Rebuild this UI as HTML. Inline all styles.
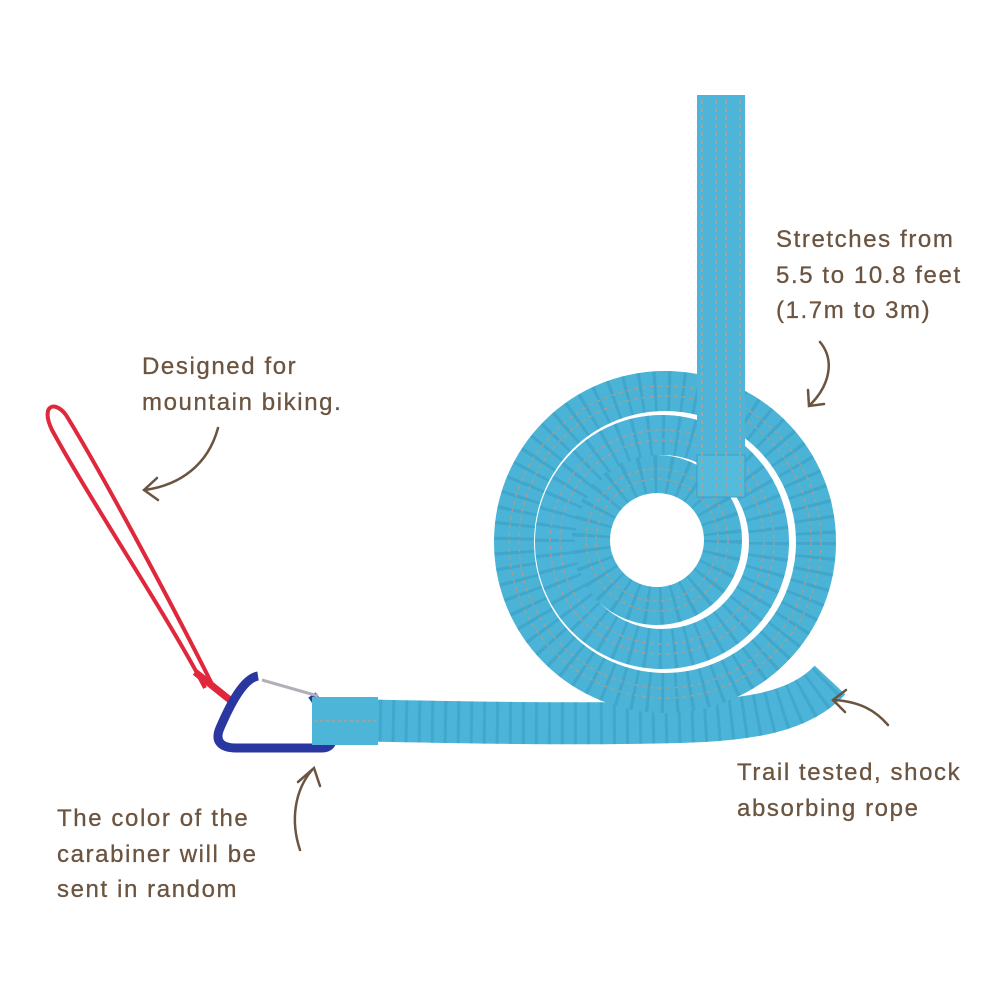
<!DOCTYPE html>
<html><head><meta charset="utf-8"><style>
html,body{margin:0;padding:0;background:#fff;}
svg{display:block;}
text{font-family:"Liberation Sans",sans-serif;font-size:24px;fill:#6b5440;letter-spacing:1.6px;stroke:#6b5440;stroke-width:0.3px;}
</style></head><body>
<svg width="1000" height="1000" viewBox="0 0 1000 1000">
<rect width="1000" height="1000" fill="#fff"/>
<!-- red loop -->
<path d="M205,688 C170,620 90,500 52,430 C40,405 55,400 66,415 C100,470 170,600 215,690" fill="none" stroke="#e0283c" stroke-width="4"/>
<path d="M195,672 L230,700" stroke="#e0283c" stroke-width="7"/>
<!-- carabiner -->
<path d="M258,676 C245,678 232,700 220,728 C214,742 222,748 236,748 L322,748 C336,748 336,732 324,712 L312,695" fill="none" stroke="#2a37a0" stroke-width="9" stroke-linejoin="round"/>
<path d="M262,680 L318,696" stroke="#b0b0b8" stroke-width="3"/>
<!-- tail -->
<path d="M340,720 C450,722 560,725 680,722 C750,720 800,712 830,680" fill="none" stroke="#4cb4d8" stroke-width="42"/>
<path d="M340,720 C450,722 560,725 680,722 C750,720 800,712 830,680" fill="none" stroke="#3598be" stroke-width="42" stroke-dasharray="3 10" opacity="0.45"/>
<rect x="312" y="697" width="66" height="48" fill="#4db6d8"/>
<line x1="314" y1="721" x2="376" y2="721" stroke="#b0a090" stroke-width="1.5" stroke-dasharray="3 3"/>
<!-- coil -->
<g fill="none">
<circle cx="665" cy="542" r="151" stroke="#4ab3d6" stroke-width="40"/>
<circle cx="662" cy="542" r="107" stroke="#4cb4d8" stroke-width="40"/>
<circle cx="657" cy="540" r="66" stroke="#4ab3d6" stroke-width="38"/>
</g>
<g fill="none" stroke="#3598be" opacity="0.45" stroke-dasharray="3 11">
<circle cx="665" cy="542" r="151" stroke-width="40"/>
<circle cx="662" cy="542" r="107" stroke-width="40"/>
<circle cx="657" cy="540" r="66" stroke-width="38"/>
</g>
<g fill="none" stroke="#b59c88" stroke-width="1.5" stroke-dasharray="4 4" opacity="0.8">
<circle cx="665" cy="542" r="146"/><circle cx="665" cy="542" r="156"/>
<circle cx="662" cy="542" r="102"/><circle cx="662" cy="542" r="112"/>
<circle cx="657" cy="540" r="61"/><circle cx="657" cy="540" r="71"/>
</g>
<!-- strap -->
<rect x="697" y="95" width="48" height="400" fill="#4fb5d8"/>
<rect x="697" y="455" width="48" height="42" fill="#55bbdc" stroke="#3d9ec4" stroke-width="1"/>
<g stroke="#b8a08c" stroke-width="1.5" stroke-dasharray="4 4">
<line x1="702" y1="100" x2="702" y2="495"/><line x1="740" y1="100" x2="740" y2="495"/>
<line x1="716" y1="100" x2="716" y2="495"/><line x1="726" y1="100" x2="726" y2="495"/>
</g>
<!-- arrows -->
<g fill="none" stroke="#6b5440" stroke-width="2.5" stroke-linecap="round">
<path d="M820,342 C835,360 830,385 810,405"/><path d="M808,390 L809,406 L824,404"/>
<path d="M218,428 C208,465 180,485 145,490"/><path d="M157,478 L144,490 L158,500"/>
<path d="M888,725 C875,710 860,702 835,700"/><path d="M846,690 L833,700 L845,712"/>
<path d="M312,770 C295,790 290,820 300,850"/><path d="M298,782 L314,768 L320,786"/>
</g>
<!-- labels -->
<text x="776" y="247">Stretches from</text>
<text x="776" y="283">5.5 to 10.8 feet</text>
<text x="776" y="318">(1.7m to 3m)</text>
<text x="142" y="374">Designed for</text>
<text x="142" y="410">mountain biking.</text>
<text x="737" y="780">Trail tested, shock</text>
<text x="737" y="816">absorbing rope</text>
<text x="57" y="826">The color of the</text>
<text x="57" y="862">carabiner will be</text>
<text x="57" y="897">sent in random</text>
</svg>
</body></html>
